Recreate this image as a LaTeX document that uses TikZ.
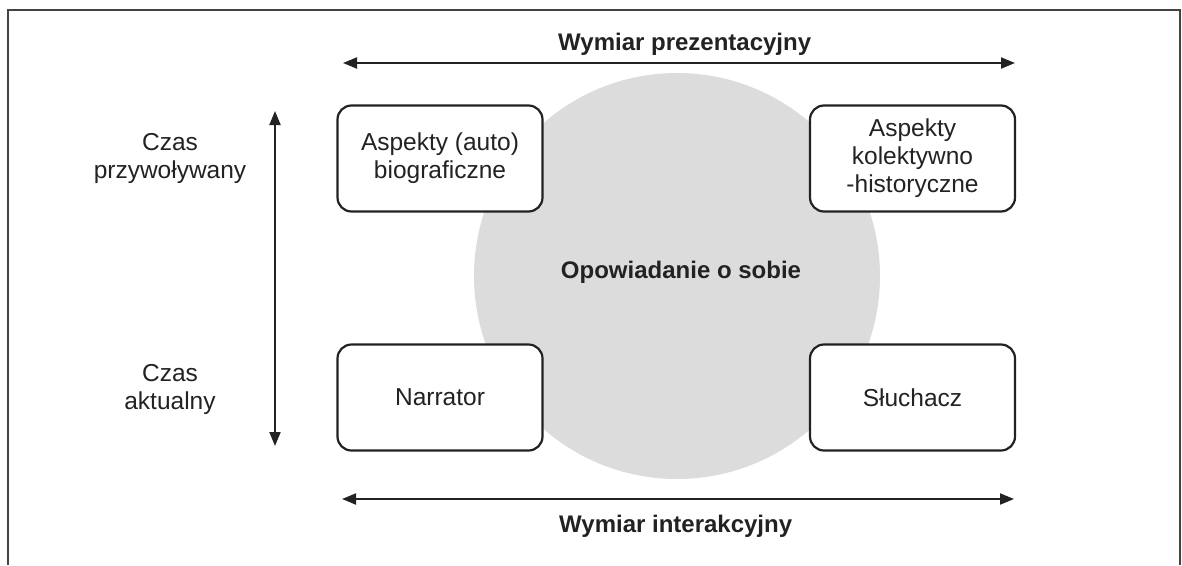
\documentclass[tikz,border=0pt]{standalone}
\usepackage{fontspec}
\setmainfont{Liberation Sans}
\usetikzlibrary{arrows.meta}
\definecolor{ink}{HTML}{222222}
\definecolor{disc}{HTML}{DCDCDC}
\begin{document}
\begin{tikzpicture}[x=1pt,y=-1pt,
  every node/.style={text=ink,font=\fontsize{24.5}{28}\selectfont,inner sep=0pt},
  card/.style={draw=ink,line width=2.2pt,rounded corners=14pt,fill=white,
    minimum width=205pt,minimum height=106pt,align=center},
  title/.style={font=\fontsize{24}{28}\selectfont\bfseries},
  side/.style={align=center},
  axis/.style={draw=ink,line width=2pt,{Triangle[length=14pt,width=11pt]}-{Triangle[length=14pt,width=11pt]}},
  frame/.style={draw=ink!85,line width=1.5pt}]
\useasboundingbox (0,0) rectangle (1182,565);
% open frame
\draw[frame] (8,565) -- (8,10) -- (1180,10) -- (1180,565);
% central disc
\fill[disc] (677,276) circle (203);
\node[title] (story) at (681,272) {Opowiadanie o sobie};
% the four fields
\node[card] (bio) at (440,158.5) {Aspekty (auto)\\biograficzne};
\node[card] (hist) at (912.5,158.5) {Aspekty\\kolektywno\\-historyczne};
\node[card] (narr) at (440,397.5) {Narrator};
\node[card] (list) at (912.5,397.5) {Słuchacz};
% horizontal axes
\coordinate (pl) at (343,63);
\coordinate (pr) at (1015,63);
\coordinate (il) at (342,499);
\coordinate (ir) at (1014,499);
\draw[axis] (pl) -- (pr);
\draw[axis] (il) -- (ir);
\node[title,anchor=base west] (pres) at (558,50) {Wymiar prezentacyjny};
\node[title,anchor=base west] (inter) at (559,532) {Wymiar interakcyjny};
% time axis
\coordinate (tt) at (275,111);
\coordinate (tb) at (275,446);
\draw[axis] (tb) -- (tt);
\node[side] (past) at (170,158) {Czas\\przywoływany};
\node[side] (now) at (170,389) {Czas\\aktualny};
\end{tikzpicture}
\end{document}
